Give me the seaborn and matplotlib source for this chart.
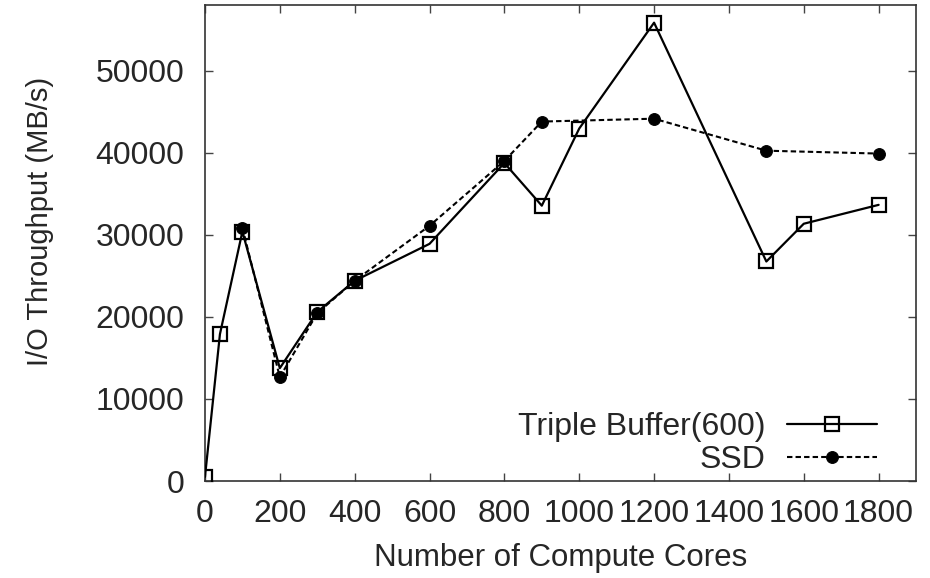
import matplotlib
matplotlib.use("Agg")
import matplotlib.pyplot as plt
import seaborn as sns
import pandas as pd

tb_cores = [0, 40, 100, 200, 300, 400, 600, 800, 900, 1000, 1200, 1500, 1600, 1800]
tb_thru = [500, 17900, 30400, 13750, 20600, 24400, 28900, 38750, 33550, 42950, 55850, 26750, 31350, 33650]
ssd_cores = [100, 200, 300, 400, 600, 800, 900, 1200, 1500, 1800]
ssd_thru = [30850, 12650, 20450, 24400, 31100, 39000, 43800, 44150, 40250, 39900]
x_ticks = [0, 200, 400, 600, 800, 1000, 1200, 1400, 1600, 1800]
y_ticks = [0, 10000, 20000, 30000, 40000, 50000]

sns.set_style("ticks")
plt.rcParams['font.family'] = ['Liberation Sans', 'DejaVu Sans']

fig = plt.figure(figsize=(9.3, 5.78), dpi=100)
ax = fig.add_axes([0.2204, 0.1678, 0.985 - 0.2204, 0.9913 - 0.1678])

df_tb = pd.DataFrame({"x": tb_cores, "y": tb_thru})
df_ssd = pd.DataFrame({"x": ssd_cores, "y": ssd_thru})

sns.lineplot(data=df_ssd, x="x", y="y", ax=ax, color="black", linestyle=(0, (2.6, 1.5)),
             linewidth=1.5, marker="o", markersize=8.5, markerfacecolor="black",
             markeredgecolor="black", label="SSD", zorder=2)
sns.lineplot(data=df_tb, x="x", y="y", ax=ax, color="black", linestyle="-",
             linewidth=1.6, marker="s", markersize=10.5, markerfacecolor="none",
             markeredgecolor="black", markeredgewidth=1.6, label="Triple Buffer(600)", zorder=3)

ax.set_xlim(0, 1900)
ax.set_ylim(0, 58000)
ax.set_xticks(x_ticks)
ax.set_yticks(y_ticks)
ax.tick_params(direction="in", length=6, width=1, top=True, right=True,
               labelsize=23, color="#444444")
ax.tick_params(axis="x", pad=13)
ax.tick_params(axis="y", pad=15)
for s in ax.spines.values():
    s.set_linewidth(1.2)
    s.set_color("#333333")
ax.set_xlabel("Number of Compute Cores", fontsize=22.5, labelpad=10)
ax.set_ylabel("I/O Throughput (MB/s)", fontsize=21)
ax.yaxis.set_label_coords(-0.213, 0.546)

h, l = ax.get_legend_handles_labels()
ax.legend(h[::-1], l[::-1], loc="lower right", frameon=False, markerfirst=False,
          fontsize=23, handlelength=2.8, handletextpad=0.7, labelspacing=0.1,
          borderaxespad=0, borderpad=0, bbox_to_anchor=(0.945, 0.012))

fig.savefig("out.png", dpi=100)
